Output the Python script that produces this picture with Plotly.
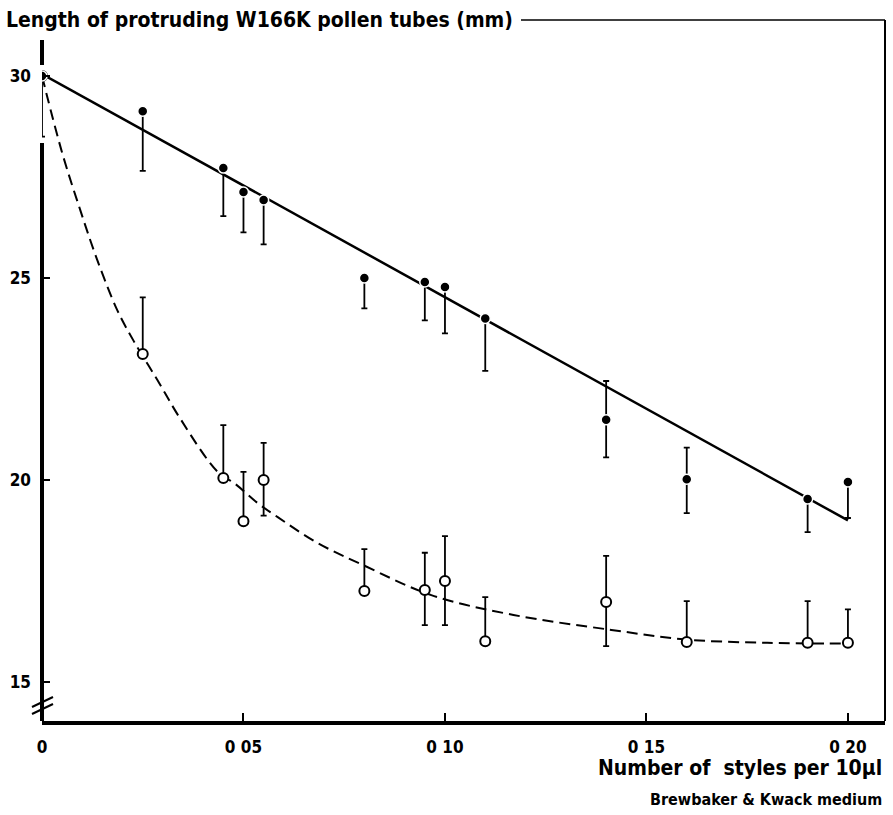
import plotly.graph_objects as go

# ---- data ----
x_vals = [0, 0.025, 0.045, 0.05, 0.055, 0.08, 0.095, 0.10, 0.11, 0.14, 0.16, 0.19, 0.20]

# filled circles (upper series)
y_filled = [30.0, 29.13, 27.72, 27.13, 26.93, 25.0, 24.9, 24.78, 24.0, 21.49, 20.02, 19.53, 19.95]
err_filled_plus = [0, 0, 0, 0, 0, 0, 0, 0, 0, 0.96, 0.78, 0, 0]
err_filled_minus = [1.5, 1.48, 1.19, 1.0, 1.1, 0.75, 0.95, 1.15, 1.3, 0.93, 0.84, 0.82, 0.89]

# open circles (lower series)
y_open = [30.0, 23.12, 20.05, 18.98, 20.0, 17.25, 17.28, 17.5, 16.01, 16.98, 15.99, 15.97, 15.97]
err_open_plus = [0, 1.4, 1.31, 1.22, 0.92, 1.04, 0.92, 1.11, 1.09, 1.14, 1.01, 1.03, 0.83]
err_open_minus = [0, 0, 0, 0, 0.88, 0, 0.87, 1.09, 0, 1.09, 0, 0, 0]

# fitted straight line (filled series)
fit_line_x = [0.0, 0.20]
fit_line_y = [30.05, 19.0]

# fitted curve (open series)
fit_curve_x = [0.0, 0.005, 0.0095, 0.0137, 0.0187, 0.0227, 0.0286, 0.0343, 0.0436, 0.048,
               0.0535, 0.0585, 0.0684, 0.08, 0.0966, 0.117, 0.1413, 0.16, 0.18, 0.20]
fit_curve_y = [30.0, 28.1, 26.68, 25.45, 24.2, 23.45, 22.48, 21.52, 20.2, 19.9,
               19.43, 19.08, 18.44, 17.88, 17.15, 16.66, 16.29, 16.05, 15.97, 15.95]

x_tickvals = [0, 0.05, 0.10, 0.15, 0.20]
x_ticktext = ["0", "0 05", "0 10", "0 15", "0 20"]
y_tickvals = [15, 20, 25, 30]
y_ticktext = ["15", "20", "25", "30"]

title_text = "Length of protruding W166K pollen tubes (mm)"
xlabel_text = "Number of  styles per 10\u03bcl"
sub_text = "Brewbaker & Kwack medium"

FONT = "DejaVu Sans Condensed, Liberation Sans Narrow, DejaVu Sans, sans-serif"

fig = go.Figure()

fig.add_trace(go.Scatter(
    x=fit_curve_x, y=fit_curve_y, mode="lines", line_shape="spline",
    line=dict(color="black", width=2, dash="11px,6px"), hoverinfo="skip", showlegend=False))
fig.add_trace(go.Scatter(
    x=fit_line_x, y=fit_line_y, mode="lines",
    line=dict(color="black", width=2.5), hoverinfo="skip", showlegend=False))

fig.add_trace(go.Scatter(
    x=x_vals, y=y_open, mode="markers",
    marker=dict(symbol="circle", size=10, color="white", line=dict(color="black", width=2)),
    error_y=dict(type="data", symmetric=False, array=err_open_plus, arrayminus=err_open_minus,
                 color="black", thickness=1.8, width=3),
    showlegend=False))
fig.add_trace(go.Scatter(
    x=x_vals, y=y_filled, mode="markers",
    marker=dict(symbol="circle", size=10, color="black", line=dict(color="white", width=1.5)),
    error_y=dict(type="data", symmetric=False, array=err_filled_plus, arrayminus=err_filled_minus,
                 color="black", thickness=1.8, width=3),
    showlegend=False))

L, R, T, B = 42, 8, 20, 94
W, H = 893, 815
pw, ph = W - L - R, H - T - B


def px(xp):
    return (xp - L) / pw


def py(yp):
    return (H - B - yp) / ph


shapes = [
    # left axis, interrupted around the 30 point as in the original
    dict(type="line", xref="paper", yref="paper", x0=0, x1=0, y0=py(40), y1=py(65),
         line=dict(color="black", width=4)),
    dict(type="line", xref="paper", yref="paper", x0=0, x1=0, y0=0, y1=py(143),
         line=dict(color="black", width=4)),
    # axis break marks
    dict(type="line", xref="paper", yref="paper", x0=px(32), x1=px(53), y0=py(707), y1=py(697),
         line=dict(color="black", width=2)),
    dict(type="line", xref="paper", yref="paper", x0=px(32), x1=px(53), y0=py(714), y1=py(704),
         line=dict(color="black", width=2)),
    # frame: right side and top line after the title
    dict(type="line", xref="paper", yref="paper", x0=1, x1=1, y0=0, y1=1,
         line=dict(color="black", width=2)),
    dict(type="line", xref="paper", yref="paper", x0=px(521), x1=1, y0=1, y1=1,
         line=dict(color="black", width=1.5)),
]

annotations = [
    dict(text="<b>" + title_text + "</b>", xref="paper", yref="paper", x=px(4), y=py(20),
         xanchor="left", yanchor="middle", showarrow=False,
         font=dict(family=FONT, size=21, color="black")),
    dict(text="<b>" + xlabel_text + "</b>", xref="paper", yref="paper", x=px(884), y=py(768),
         xanchor="right", yanchor="middle", showarrow=False,
         font=dict(family=FONT, size=21, color="black")),
    dict(text="<b>" + sub_text + "</b>", xref="paper", yref="paper", x=px(884), y=py(799),
         xanchor="right", yanchor="middle", showarrow=False,
         font=dict(family=FONT, size=16, color="black")),
]

fig.update_layout(
    width=W, height=H,
    margin=dict(l=L, r=R, t=T, b=B, pad=0, autoexpand=False),
    paper_bgcolor="white", plot_bgcolor="white",
    shapes=shapes, annotations=annotations,
    xaxis=dict(range=[0, 0.2092], tickvals=x_tickvals, ticktext=x_ticktext,
               ticks="inside", ticklen=8, tickwidth=1.5, tickcolor="black",
               showline=True, linewidth=4, linecolor="black", mirror=False,
               showgrid=False, zeroline=False, ticklabelstandoff=8, automargin=False,
               tickfont=dict(family=FONT, size=17, color="black", weight="bold")),
    yaxis=dict(range=[14.035, 31.386], tickvals=y_tickvals, ticktext=y_ticktext,
               ticks="inside", ticklen=8, tickwidth=1.5, tickcolor="black",
               showline=False, showgrid=False, zeroline=False, ticklabelstandoff=10,
               automargin=False,
               tickfont=dict(family=FONT, size=17, color="black", weight="bold")),
)

fig.write_html("out.html", post_script="document.body.style.margin='0px';",
               config={"displayModeBar": False})
